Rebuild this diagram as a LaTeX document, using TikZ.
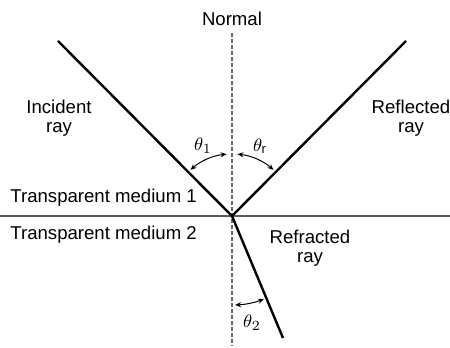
\documentclass[tikz,border=0pt]{standalone}
\usepackage{fontspec}
\setmainfont{Liberation Sans}
\usetikzlibrary{arrows.meta}

\tikzset{
    ray/.style={line width=1.2pt, black},
    surface/.style={line width=1pt, black!65},
    normalline/.style={line width=0.6pt, black!60, dash pattern=on 2pt off 1pt},
    anglearc/.style={line width=0.5pt, {Stealth[length=3pt,width=2.5pt]}-{Stealth[length=3pt,width=2.5pt]}},
    lbl/.style={font=\fontsize{9.3}{9.5}\selectfont, align=center, inner sep=0pt}
}

\begin{document}
\begin{tikzpicture}[x=0.5pt, y=0.5pt]
    \useasboundingbox (0,0) rectangle (450,348);

    % point of incidence and end points
    \coordinate (O) at (232,132);
    \coordinate (inc) at (58,307);
    \coordinate (refl) at (406,307);
    \coordinate (refr) at (283,10);
    \coordinate (ntop) at (232,315);
    \coordinate (nbot) at (232,2);
    \coordinate (sleft) at (0,132);
    \coordinate (sright) at (450,132);

    % boundary and normal
    \draw[surface] (sleft) -- (sright);
    \draw[normalline] (ntop) -- (nbot);

    % rays
    \draw[ray] (inc) -- (O);
    \draw[ray] (O) -- (refl);
    \draw[ray] (O) -- (refr);

    % angles
    \draw[anglearc] ([shift={(132:62)}]O) arc (132:95:62);
    \draw[anglearc] ([shift={(85:62)}]O) arc (85:48:62);
    \draw[anglearc] ([shift={(-88:89)}]O) arc (-88:-69:89);

    % labels
    \node[lbl] (normal) at (232,329) {Normal};
    \node[lbl] (incident) at (59,230) {Incident\\ray};
    \node[lbl] (reflected) at (411,230) {Reflected\\ray};
    \node[lbl] (refracted) at (310,99.5) {Refracted\\ray};
    \node[lbl, anchor=west] (med1) at (10,150) {Transparent medium 1};
    \node[lbl, anchor=west] (med2) at (10,113) {Transparent medium 2};
    \node[lbl] (th1) at (203,202) {$\theta_1$};
    \node[lbl] (thr) at (260,202) {$\theta_{\mathrm{r}}$};
    \node[lbl] (th2) at (252,25) {$\theta_2$};
\end{tikzpicture}
\end{document}
